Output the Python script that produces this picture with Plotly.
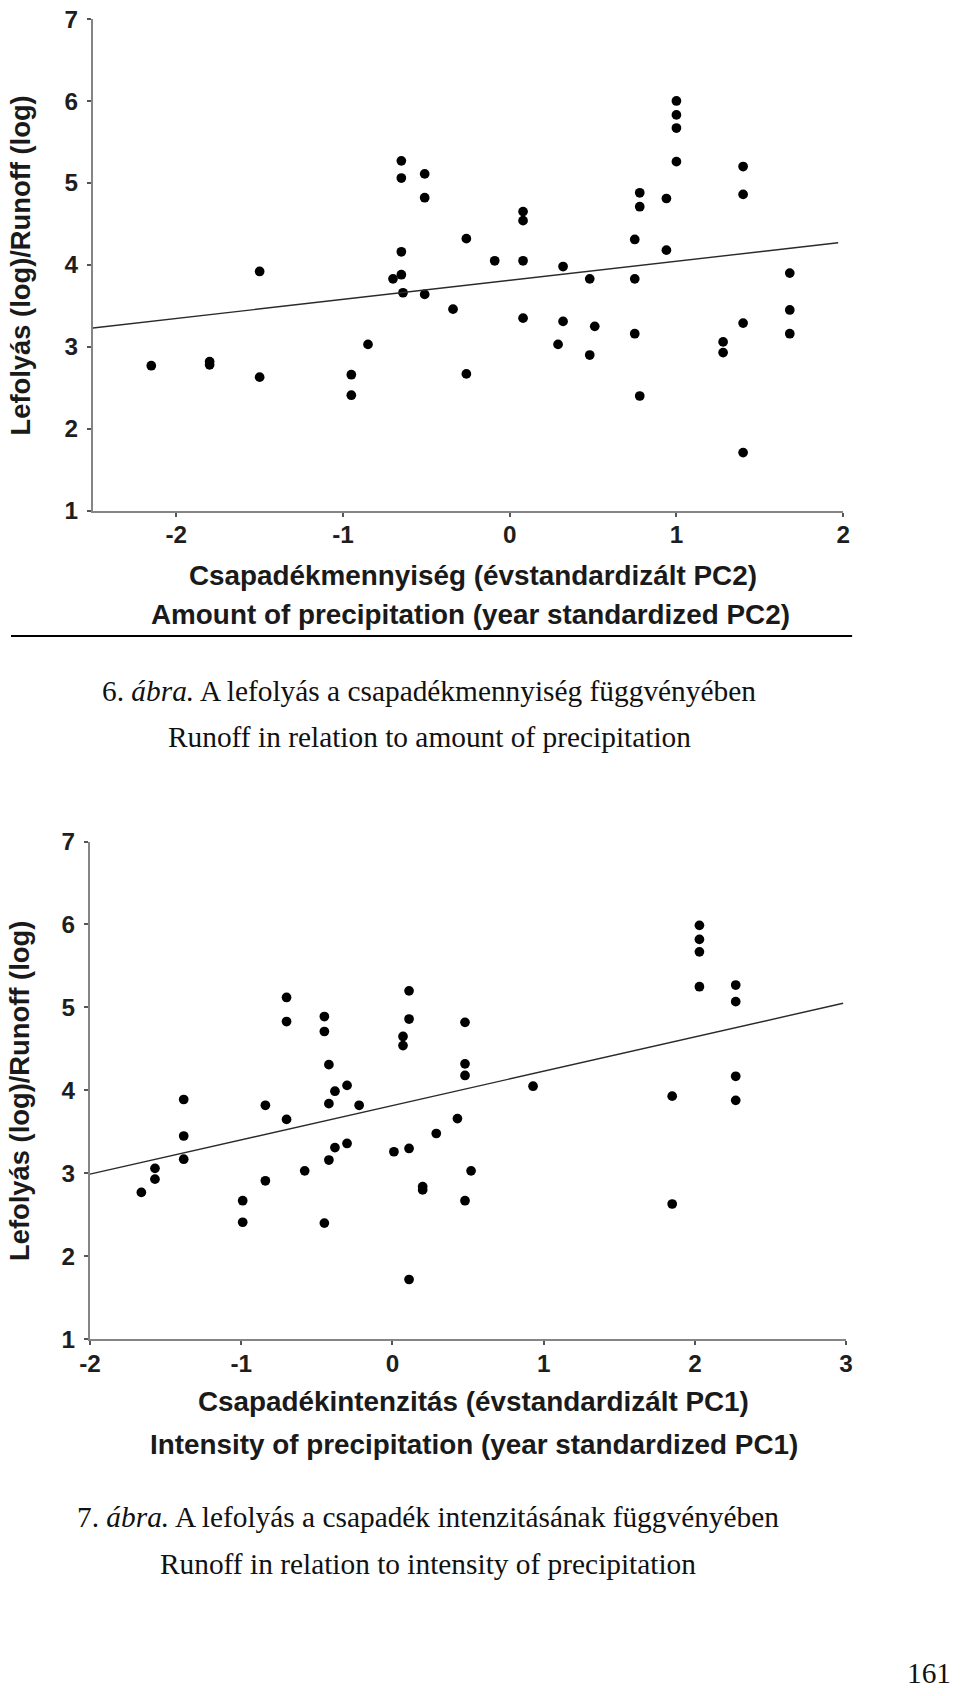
import plotly.graph_objects as go

# ---------------- data ----------------
# Figure 6: runoff vs amount of precipitation (PC2)
pc2_x = [-2.15, -1.80, -1.80, -1.50, -1.50, -0.95, -0.95, -0.85, -0.70, -0.65,
         -0.65, -0.65, -0.65, -0.64, -0.51, -0.51, -0.51, -0.34, -0.26, -0.26,
         -0.09, 0.08, 0.08, 0.08, 0.08, 0.32, 0.32, 0.29, 0.48, 0.48,
         0.51, 0.75, 0.75, 0.75, 0.78, 0.78, 0.78, 0.94, 0.94, 1.00,
         1.00, 1.00, 1.00, 1.28, 1.28, 1.40, 1.40, 1.40, 1.40, 1.68,
         1.68, 1.68]
pc2_runoff = [2.77, 2.78, 2.82, 3.92, 2.63, 2.66, 2.41, 3.03, 3.83, 3.88,
              4.16, 5.06, 5.27, 3.66, 5.11, 4.82, 3.64, 3.46, 4.32, 2.67,
              4.05, 4.65, 4.54, 4.05, 3.35, 3.98, 3.31, 3.03, 3.83, 2.90,
              3.25, 4.31, 3.83, 3.16, 4.88, 4.71, 2.40, 4.81, 4.18, 6.00,
              5.83, 5.67, 5.26, 3.06, 2.93, 5.20, 4.86, 3.29, 1.71, 3.90,
              3.45, 3.16]
trend6_x = [-2.5, 1.97]
trend6_y = [3.23, 4.27]

# Figure 7: runoff vs intensity of precipitation (PC1)
pc1_x = [-1.66, -1.57, -1.57, -1.38, -1.38, -1.38, -0.99, -0.99, -0.84, -0.84,
         -0.70, -0.70, -0.70, -0.58, -0.45, -0.45, -0.45, -0.42, -0.42, -0.42,
         -0.38, -0.38, -0.30, -0.30, -0.22, 0.01, 0.07, 0.07, 0.11, 0.11,
         0.11, 0.11, 0.20, 0.20, 0.29, 0.43, 0.48, 0.48, 0.48, 0.48,
         0.52, 0.93, 1.85, 1.85, 2.03, 2.03, 2.03, 2.03, 2.27, 2.27,
         2.27, 2.27]
pc1_runoff = [2.77, 3.06, 2.93, 3.89, 3.45, 3.17, 2.67, 2.41, 3.82, 2.91,
              5.12, 4.83, 3.65, 3.03, 4.89, 4.71, 2.40, 4.31, 3.84, 3.16,
              3.99, 3.31, 4.06, 3.36, 3.82, 3.26, 4.65, 4.54, 5.20, 4.86,
              3.30, 1.72, 2.80, 2.84, 3.48, 3.66, 4.82, 4.32, 4.18, 2.67,
              3.03, 4.05, 3.93, 2.63, 5.99, 5.82, 5.67, 5.25, 5.27, 5.07,
              4.17, 3.88]
trend7_x = [-2.0, 2.98]
trend7_y = [2.99, 5.05]

x6_ticks = [-2, -1, 0, 1, 2]
x6_labels = ["-2", "-1", "0", "1", "2"]
x7_ticks = [-2, -1, 0, 1, 2, 3]
x7_labels = ["-2", "-1", "0", "1", "2", "3"]
y_ticks = [1, 2, 3, 4, 5, 6, 7]
y_labels = ["1", "2", "3", "4", "5", "6", "7"]

y_title = "Lefolyás (log)/Runoff (log)"
x6_title_hu = "Csapadékmennyiség (évstandardizált PC2)"
x6_title_en = "Amount of precipitation (year standardized PC2)"
x7_title_hu = "Csapadékintenzitás (évstandardizált PC1)"
x7_title_en = "Intensity of precipitation (year standardized PC1)"
cap6_hu = "6. <i>ábra.</i> A lefolyás a csapadékmennyiség függvényében"
cap6_en = "Runoff in relation to amount of precipitation"
cap7_hu = "7. <i>ábra.</i> A lefolyás a csapadék intenzitásának függvényében"
cap7_en = "Runoff in relation to intensity of precipitation"
page_no = "161"

# ---------------- layout helpers ----------------
W, H = 960, 1696
# The page is photographed with the browser's 8px body margin around the
# figure and then fitted back to 960x1696; map page positions to figure ones.
BODY = 8
SX, SY = (W + 2 * BODY) / W, (H + 2 * BODY) / H
K = (SX + SY) / 2
SANS = "Liberation Sans, Arial, sans-serif"
SERIF = "Liberation Serif, Times New Roman, serif"

def px(x):
    return min(max((x * SX - BODY) / W, 0), 1)

def py(y):
    return min(max(1 - (y * SY - BODY) / H, 0), 1)

fig = go.Figure()

marker = dict(color="black", size=9.6 * K, symbol="circle")
fig.add_trace(go.Scatter(x=pc2_x, y=pc2_runoff, mode="markers", marker=marker,
                         xaxis="x", yaxis="y", hoverinfo="x+y"))
fig.add_trace(go.Scatter(x=trend6_x, y=trend6_y, mode="lines",
                         line=dict(color="#2a2a2a", width=1.4),
                         xaxis="x", yaxis="y", hoverinfo="skip"))
fig.add_trace(go.Scatter(x=pc1_x, y=pc1_runoff, mode="markers", marker=marker,
                         xaxis="x2", yaxis="y2", hoverinfo="x+y"))
fig.add_trace(go.Scatter(x=trend7_x, y=trend7_y, mode="lines",
                         line=dict(color="#2a2a2a", width=1.4),
                         xaxis="x2", yaxis="y2", hoverinfo="skip"))

tickfont = dict(family=SANS, size=24 * K, color="#1e1e1e", weight="bold")
axis_common = dict(showline=True, linecolor="#858585", linewidth=2,
                   ticks="outside", ticklen=4, tickwidth=1.5, tickcolor="#555555",
                   showgrid=False, zeroline=False, tickfont=tickfont, fixedrange=True)

fig.update_layout(
    width=W, height=H,
    margin=dict(l=0, r=0, t=0, b=0, pad=0),
    paper_bgcolor="white", plot_bgcolor="white",
    showlegend=False,
    xaxis=dict(domain=[px(90), px(842)], range=[-2.5, 2], anchor="y",
               tickvals=x6_ticks, ticktext=x6_labels, ticklabelstandoff=-3,
               **axis_common),
    yaxis=dict(domain=[py(509), py(14)], range=[1, 7], anchor="x",
               tickvals=y_ticks, ticktext=y_labels, ticklabelstandoff=4,
               **axis_common),
    xaxis2=dict(domain=[px(87), px(845)], range=[-2, 3], anchor="y2",
                tickvals=x7_ticks, ticktext=x7_labels, ticklabelstandoff=-2,
                **axis_common),
    yaxis2=dict(domain=[py(1343), py(842)], range=[1, 7], anchor="x2",
                tickvals=y_ticks, ticktext=y_labels, ticklabelstandoff=4,
                **axis_common),
)

title_font = dict(family=SANS, size=27.5 * K, color="#1a1a1a", weight="bold")
ytitle_font = dict(family=SANS, size=27 * K, color="#1a1a1a", weight="bold")
cap_font = dict(family=SERIF, size=29 * K, color="#111111")

annotations = [
    dict(text=y_title, x=px(17), y=py(262), textangle=-90, font=ytitle_font),
    dict(text=x6_title_hu, x=px(471), y=py(574), font=title_font),
    dict(text=x6_title_en, x=px(468), y=py(613), font=title_font),
    dict(text=cap6_hu, x=px(427), y=py(690), font=cap_font),
    dict(text=cap6_en, x=px(427), y=py(737), font=cap_font),
    dict(text=y_title, x=px(17), y=py(1093), textangle=-90, font=ytitle_font),
    dict(text=x7_title_hu, x=px(471), y=py(1406), font=title_font),
    dict(text=x7_title_en, x=px(472), y=py(1449), font=title_font),
    dict(text=cap7_hu, x=px(426), y=py(1522), font=cap_font),
    dict(text=cap7_en, x=px(426), y=py(1569), font=cap_font),
    dict(text=page_no, x=1, y=py(1679), xanchor="right", font=cap_font),
]
for a in annotations:
    a.setdefault("xanchor", "center")
    a.update(xref="paper", yref="paper", yanchor="middle", showarrow=False)
fig.update_layout(annotations=annotations)

fig.add_shape(type="line", xref="paper", yref="paper",
              x0=px(0), x1=px(851), y0=py(635), y1=py(635),
              line=dict(color="black", width=2))

fig.write_html("out.html")
